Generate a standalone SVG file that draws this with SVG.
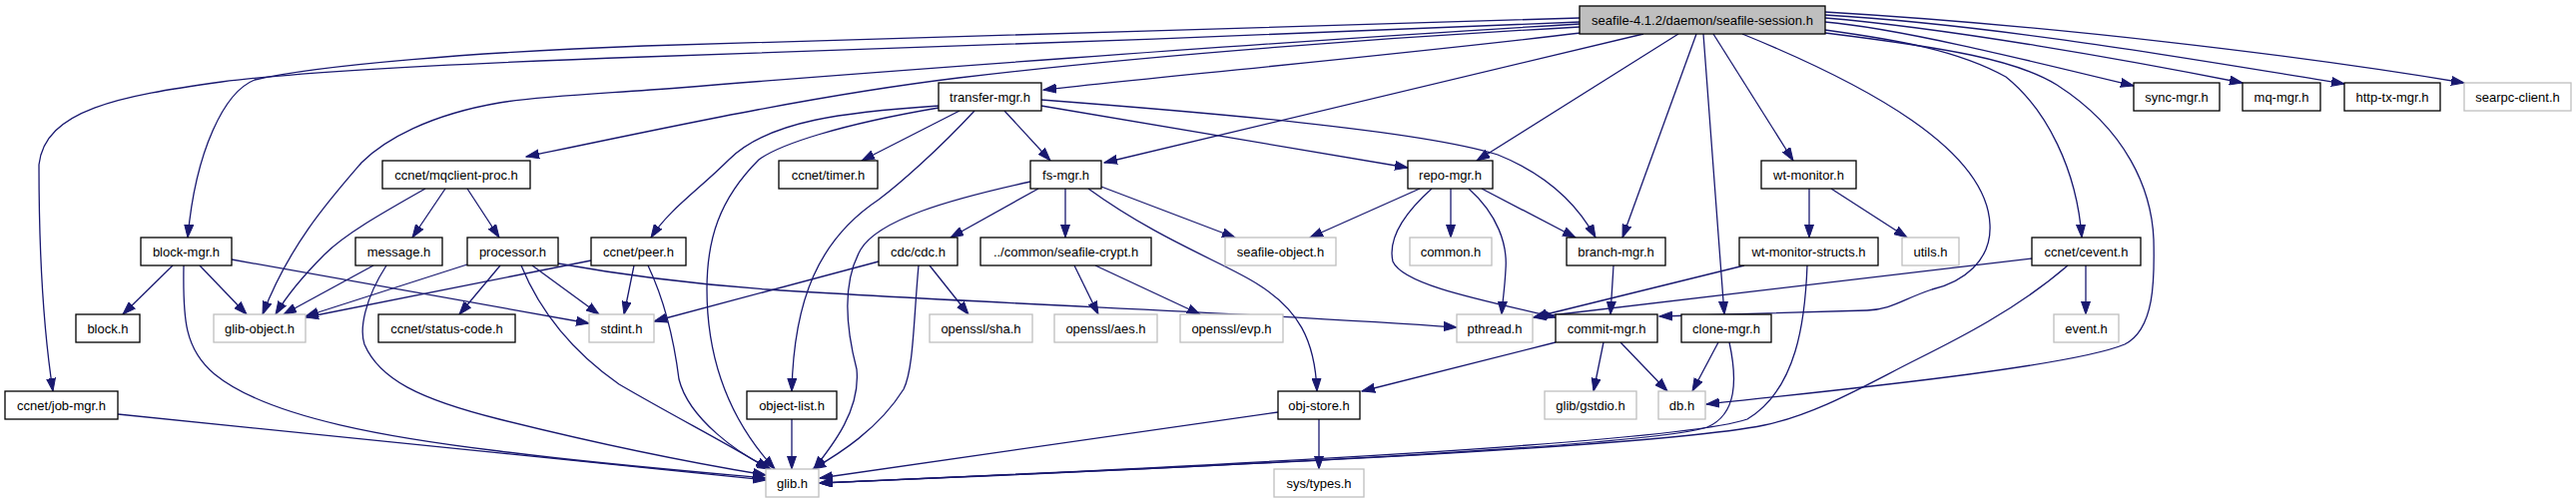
<svg xmlns="http://www.w3.org/2000/svg" width="2580" height="504" viewBox="0 0 2580 504">
<style>
.n rect{fill:#fff;stroke:#000;stroke-width:1.3}
.n.g rect{stroke:#bfbfbf}
#root rect{fill:#bfbfbf}
.n text{font-family:"Liberation Sans",Arial,sans-serif;font-size:13px;text-anchor:middle;fill:#000}
#edges path{fill:none;stroke:#191970;stroke-width:1.3;marker-end:url(#a)}
</style>
<defs>
<marker id="a" markerUnits="userSpaceOnUse" markerWidth="14" markerHeight="10" refX="13" refY="5" orient="auto">
<path d="M0,0.5 L13,5 L0,9.5 z" fill="#191970" stroke="#191970" stroke-width="1"/>
</marker>
</defs>
<rect width="2580" height="504" fill="#fff"/>
<g id="edges">
<path d="M1582,22 C1300,35 900,48 645,57 C450,64 300,72 222,82 C120,96 45,110 39,165 C39,260 45,340 53,392"/>
<path d="M1582,18 C1300,27 900,38 645,46 C480,52 320,65 255,80 C225,92 196,150 188,238"/>
<path d="M1582,24 C1300,40 800,78 680,88 C600,94 540,96 500,103 C430,115 385,140 362,163 C330,200 290,245 263,315"/>
<path d="M1582,27 C1400,37 1150,55 960,78 C820,95 680,125 527,157"/>
<path d="M1583,33 C1400,55 1200,73 1045,90"/>
<path d="M1646,34 L1106,163"/>
<path d="M1681,34 L1479,161"/>
<path d="M1699,34 L1625,238"/>
<path d="M1706,34 C1712,120 1720,220 1727,315"/>
<path d="M1716,34 L1796,161"/>
<path d="M1745,34 C1870,85 1990,150 1993,225 C1995,262 1965,283 1935,290 C1905,300 1895,310 1870,311 L1662,317"/>
<path d="M1828,30 C1900,40 1960,50 2009,77 C2050,110 2080,170 2085,238"/>
<path d="M1828,33 C1950,48 2020,60 2060,85 C2130,130 2155,190 2157,240 C2158,280 2158,330 2128,345 C2080,365 1900,385 1709,405"/>
<path d="M1828,22 C1900,28 2030,60 2137,86"/>
<path d="M1828,18 C1950,28 2130,60 2246,83"/>
<path d="M1828,15 C2000,25 2200,60 2348,84"/>
<path d="M1828,12 C2050,25 2300,55 2468,83"/>
<path d="M940,106 C850,112 770,120 730,160 C700,190 670,210 652,238"/>
<path d="M940,108 C840,125 780,145 760,160 C720,200 708,240 708,290 C708,360 730,420 776,470"/>
<path d="M961,111 L863,161"/>
<path d="M976,111 C940,150 900,185 880,200 C820,240 795,300 793,392"/>
<path d="M1006,111 L1052,161"/>
<path d="M1043,106 L1410,168"/>
<path d="M1043,100 C1200,112 1420,130 1500,155 C1550,175 1580,205 1598,238"/>
<path d="M446,189 L413,238"/>
<path d="M468,189 L500,238"/>
<path d="M426,189 C380,215 345,235 325,255 C300,280 285,300 276,315"/>
<path d="M1032,182 C950,200 880,220 862,250 C845,280 845,320 858,370 C862,410 835,445 815,470"/>
<path d="M1040,189 L952,238"/>
<path d="M1067,189 L1067,238"/>
<path d="M1090,189 C1160,240 1230,265 1260,285 C1300,310 1317,340 1319,392"/>
<path d="M1103,187 L1237,238"/>
<path d="M1422,189 L1312,238"/>
<path d="M1453,189 L1453,238"/>
<path d="M1434,189 C1405,215 1390,240 1395,262 C1405,285 1480,300 1558,318"/>
<path d="M1471,189 C1500,215 1510,245 1508,270 C1507,290 1505,300 1504,315"/>
<path d="M1484,189 L1578,238"/>
<path d="M1812,189 L1812,238"/>
<path d="M1834,189 L1910,238"/>
<path d="M1747,266 L1536,318"/>
<path d="M1810,266 C1808,320 1800,390 1750,420 C1680,445 1100,472 821,484"/>
<path d="M2089,266 L2089,315"/>
<path d="M2035,259 L1536,318"/>
<path d="M2071,266 C2020,310 1960,340 1920,360 C1870,385 1820,415 1767,426 C1650,450 1100,472 821,484"/>
<path d="M1721,343 L1695,392"/>
<path d="M1732,343 C1740,380 1740,415 1710,428 C1640,450 1100,472 821,484"/>
<path d="M1616,266 L1613,315"/>
<path d="M1558,343 L1364,392"/>
<path d="M1606,343 L1596,392"/>
<path d="M1623,343 L1670,392"/>
<path d="M1321,420 L1321,470"/>
<path d="M1280,413 L821,479"/>
<path d="M880,262 L655,322"/>
<path d="M931,266 L970,315"/>
<path d="M920,266 C915,320 915,370 905,390 C880,430 840,455 814,470"/>
<path d="M1076,266 L1100,315"/>
<path d="M1097,266 L1202,315"/>
<path d="M468,265 L306,317"/>
<path d="M501,266 L460,315"/>
<path d="M533,266 L600,315"/>
<path d="M522,266 C540,310 570,350 620,385 C680,420 730,445 770,470"/>
<path d="M559,264 C620,275 700,285 768,290 C1000,305 1250,313 1459,328"/>
<path d="M374,266 L284,315"/>
<path d="M387,266 C365,300 360,330 365,345 C380,380 420,400 500,420 C600,445 700,465 767,476"/>
<path d="M592,261 L306,318"/>
<path d="M635,266 L625,315"/>
<path d="M649,266 C665,300 675,340 680,380 C690,420 740,455 772,470"/>
<path d="M173,266 L123,315"/>
<path d="M200,266 L247,315"/>
<path d="M232,260 L590,324"/>
<path d="M184,266 C183,320 185,350 215,375 C270,420 400,440 500,452 C600,465 700,473 767,479"/>
<path d="M118,415 L767,481"/>
<path d="M793,420 L793,470"/>
</g>
<g id="root" class="n"><rect x="1582" y="6" width="246" height="28"/><text x="1705" y="24.5">seafile-4.1.2/daemon/seafile-session.h</text></g>
<g id="transfer-mgr" class="n"><rect x="940" y="83" width="103" height="28"/><text x="991.5" y="101.5">transfer-mgr.h</text></g>
<g id="sync-mgr" class="n"><rect x="2137" y="83" width="86" height="28"/><text x="2180" y="101.5">sync-mgr.h</text></g>
<g id="mq-mgr" class="n"><rect x="2246" y="83" width="78" height="28"/><text x="2285" y="101.5">mq-mgr.h</text></g>
<g id="http-tx-mgr" class="n"><rect x="2348" y="83" width="96" height="28"/><text x="2396" y="101.5">http-tx-mgr.h</text></g>
<g id="searpc-client" class="n g"><rect x="2468" y="83" width="107" height="28"/><text x="2521.5" y="101.5">searpc-client.h</text></g>
<g id="mqclient-proc" class="n"><rect x="383" y="161" width="148" height="28"/><text x="457" y="179.5">ccnet/mqclient-proc.h</text></g>
<g id="timer" class="n"><rect x="780" y="161" width="99" height="28"/><text x="829.5" y="179.5">ccnet/timer.h</text></g>
<g id="fs-mgr" class="n"><rect x="1032" y="161" width="71" height="28"/><text x="1067.5" y="179.5">fs-mgr.h</text></g>
<g id="repo-mgr" class="n"><rect x="1410" y="161" width="85" height="28"/><text x="1452.5" y="179.5">repo-mgr.h</text></g>
<g id="wt-monitor" class="n"><rect x="1764" y="161" width="95" height="28"/><text x="1811.5" y="179.5">wt-monitor.h</text></g>
<g id="block-mgr" class="n"><rect x="141" y="238" width="91" height="28"/><text x="186.5" y="256.5">block-mgr.h</text></g>
<g id="message" class="n"><rect x="356" y="238" width="87" height="28"/><text x="399.5" y="256.5">message.h</text></g>
<g id="processor" class="n"><rect x="468" y="238" width="91" height="28"/><text x="513.5" y="256.5">processor.h</text></g>
<g id="peer" class="n"><rect x="592" y="238" width="95" height="28"/><text x="639.5" y="256.5">ccnet/peer.h</text></g>
<g id="cdc" class="n"><rect x="880" y="238" width="79" height="28"/><text x="919.5" y="256.5">cdc/cdc.h</text></g>
<g id="seafile-crypt" class="n"><rect x="982" y="238" width="171" height="28"/><text x="1067.5" y="256.5">../common/seafile-crypt.h</text></g>
<g id="seafile-object" class="n g"><rect x="1227" y="238" width="111" height="28"/><text x="1282.5" y="256.5">seafile-object.h</text></g>
<g id="common" class="n g"><rect x="1412" y="238" width="82" height="28"/><text x="1453" y="256.5">common.h</text></g>
<g id="branch-mgr" class="n"><rect x="1569" y="238" width="99" height="28"/><text x="1618.5" y="256.5">branch-mgr.h</text></g>
<g id="wt-monitor-structs" class="n"><rect x="1742" y="238" width="139" height="28"/><text x="1811.5" y="256.5">wt-monitor-structs.h</text></g>
<g id="utils" class="n g"><rect x="1905" y="238" width="57" height="28"/><text x="1933.5" y="256.5">utils.h</text></g>
<g id="cevent" class="n"><rect x="2035" y="238" width="109" height="28"/><text x="2089.5" y="256.5">ccnet/cevent.h</text></g>
<g id="block" class="n"><rect x="76" y="315" width="64" height="28"/><text x="108" y="333.5">block.h</text></g>
<g id="glib-object" class="n g"><rect x="214" y="315" width="92" height="28"/><text x="260" y="333.5">glib-object.h</text></g>
<g id="status-code" class="n"><rect x="379" y="315" width="137" height="28"/><text x="447.5" y="333.5">ccnet/status-code.h</text></g>
<g id="stdint" class="n g"><rect x="590" y="315" width="65" height="28"/><text x="622.5" y="333.5">stdint.h</text></g>
<g id="sha" class="n g"><rect x="931" y="315" width="103" height="28"/><text x="982.5" y="333.5">openssl/sha.h</text></g>
<g id="aes" class="n g"><rect x="1056" y="315" width="103" height="28"/><text x="1107.5" y="333.5">openssl/aes.h</text></g>
<g id="evp" class="n g"><rect x="1182" y="315" width="103" height="28"/><text x="1233.5" y="333.5">openssl/evp.h</text></g>
<g id="pthread" class="n g"><rect x="1459" y="315" width="76" height="28"/><text x="1497" y="333.5">pthread.h</text></g>
<g id="commit-mgr" class="n"><rect x="1558" y="315" width="102" height="28"/><text x="1609" y="333.5">commit-mgr.h</text></g>
<g id="clone-mgr" class="n"><rect x="1684" y="315" width="90" height="28"/><text x="1729" y="333.5">clone-mgr.h</text></g>
<g id="event" class="n g"><rect x="2057" y="315" width="65" height="28"/><text x="2089.5" y="333.5">event.h</text></g>
<g id="job-mgr" class="n"><rect x="5" y="392" width="113" height="28"/><text x="61.5" y="410.5">ccnet/job-mgr.h</text></g>
<g id="object-list" class="n"><rect x="748" y="392" width="90" height="28"/><text x="793" y="410.5">object-list.h</text></g>
<g id="obj-store" class="n"><rect x="1280" y="392" width="82" height="28"/><text x="1321" y="410.5">obj-store.h</text></g>
<g id="gstdio" class="n g"><rect x="1547" y="392" width="92" height="28"/><text x="1593" y="410.5">glib/gstdio.h</text></g>
<g id="db" class="n g"><rect x="1661" y="392" width="47" height="28"/><text x="1684.5" y="410.5">db.h</text></g>
<g id="glib" class="n g"><rect x="767" y="470" width="53" height="28"/><text x="793.5" y="488.5">glib.h</text></g>
<g id="sys-types" class="n g"><rect x="1276" y="470" width="90" height="28"/><text x="1321" y="488.5">sys/types.h</text></g>
</svg>
